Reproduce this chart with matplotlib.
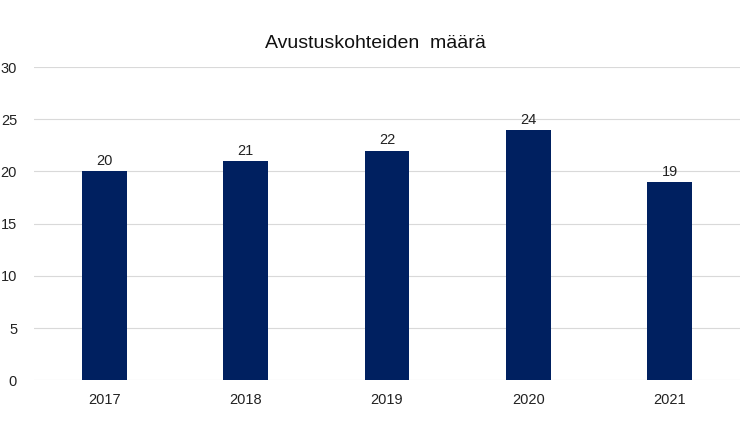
import matplotlib.pyplot as plt

plt.rcParams['font.family'] = ['Liberation Sans', 'DejaVu Sans']

years = ['2017', '2018', '2019', '2020', '2021']
counts = [20, 21, 22, 24, 19]

fig = plt.figure(figsize=(7.5, 4.36), dpi=100)
ax = fig.add_axes([0.045, 0.128, 0.942, 0.718])

x = range(len(years))
bars = ax.bar(x, counts, width=0.315, color='#002060', zorder=3)
for b, v in zip(bars, counts):
    ax.text(b.get_x() + b.get_width() / 2, v + 0.3, str(v),
            ha='center', va='bottom', fontsize=10.5, color='#222222')

ax.set_xlim(-0.5, len(years) - 0.5)
ax.set_ylim(0, 30)
ax.set_yticks(range(0, 31, 5))
ax.set_xticks(list(x))
ax.set_xticklabels(years)
ax.grid(axis='y', color='#d9d9d9', linewidth=0.8, zorder=0)
for s in ax.spines.values():
    s.set_visible(False)
ax.tick_params(axis='both', length=0, labelsize=10.5, colors='#222222')
ax.tick_params(axis='x', pad=9)
ax.tick_params(axis='y', pad=12)

fig.text(0.5, 0.9, 'Avustuskohteiden  määrä', ha='center', va='center',
         fontsize=14, color='#111111')

fig.savefig('out.png')
